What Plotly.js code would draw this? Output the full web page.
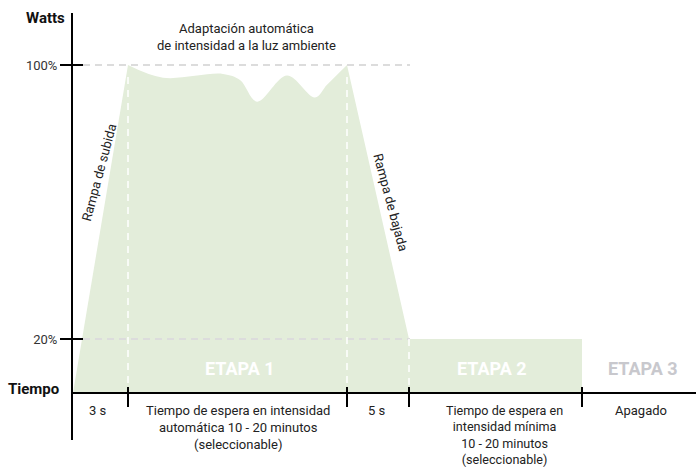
<!DOCTYPE html>
<html>
<head>
<meta charset="utf-8">
<script src="https://cdn.plot.ly/plotly-3.0.1.min.js"></script>
<style>
  html, body { margin: 0; padding: 0; background: #ffffff; }
  #chart { width: 696px; height: 468px; }
</style>
</head>
<body>
<div id="chart"></div>
<script>
// Timeline positions (horizontal units) of the phase boundaries:
// start, end of ramp-up, end of auto wait, end of ramp-down, end of stage 2
const phaseEdges = [0, 55, 274, 336, 509];
const fullLevel = 100;     // % power during stage 1
const minLevel = 20;       // % power during stage 2
const baseLevel = 4.2;     // level where the time axis sits

// Automatic light-adaptation curve across the stage-1 wait
const waveX = [55, 90, 150, 167, 184, 214, 242, 254, 274];
const waveY = [100, 96.3, 97.4, 95.6, 89.3, 96.9, 90.5, 94.2, 100];

// Y tick labels
const levelTicks = [minLevel, fullLevel];
const levelText = ['20%', '100%'];

// Phase labels along the time axis
const phaseLabels = [
  '3 s',
  'Tiempo de espera en intensidad<br>automática 10 - 20 minutos<br>(seleccionable)',
  '5 s',
  'Tiempo de espera en<br>intensidad mínima<br>10 - 20 minutos<br>(seleccionable)',
  'Apagado'
];
const stageNames = ['ETAPA 1', 'ETAPA 2', 'ETAPA 3'];

const fillColor = 'rgb(227,237,218)';
const FONT = 'Roboto, "Open Sans", sans-serif';

// plot area geometry (pixels)
const W = 696, H = 468, ML = 73, MT = 13, MB = 28;
const plotW = W - ML, plotH = H - MT - MB;
const fx = px => (px - ML) / plotW;
const fy = py => (H - MB - py) / plotH;

const [t0, tUp, tWait, tDown, tEnd] = phaseEdges;

const traces = [
  // ramp up
  {
    x: [t0, tUp, tUp + 8, t0],
    y: [baseLevel, fullLevel, baseLevel, baseLevel],
    mode: 'lines', fill: 'toself', fillcolor: fillColor,
    line: {width: 0}, hoverinfo: 'skip', showlegend: false
  },
  // ramp down and stage 2 minimum level
  {
    x: [tWait, tDown, tEnd, tEnd, tWait - 10, tWait],
    y: [fullLevel, minLevel, minLevel, baseLevel, baseLevel, fullLevel],
    mode: 'lines', fill: 'toself', fillcolor: fillColor,
    line: {width: 0}, hoverinfo: 'skip', showlegend: false
  },
  // floor for the adaptive curve
  {
    x: [waveX[0], waveX[waveX.length - 1]],
    y: [baseLevel, baseLevel],
    mode: 'lines', line: {width: 0}, hoverinfo: 'skip', showlegend: false
  },
  // adaptive curve
  {
    x: waveX, y: waveY,
    mode: 'lines', line: {width: 0, shape: 'spline', smoothing: 1},
    fill: 'tonexty', fillcolor: fillColor, hoverinfo: 'skip', showlegend: false
  }
];

const shapes = [];
// light dashed reference levels
[fullLevel, minLevel].forEach(lv => {
  shapes.push({type: 'line', xref: 'x', yref: 'y', x0: 10, x1: tDown + 1, y0: lv, y1: lv,
    line: {color: '#dcdcdc', width: 2, dash: '7px,5px'}});
});
// white dashed phase separators
shapes.push({type: 'line', xref: 'x', yref: 'y', x0: tUp, x1: tUp, y0: 96.5, y1: baseLevel + 1.7,
  line: {color: '#ffffff', width: 1.5, dash: '7px,6px'}});
shapes.push({type: 'line', xref: 'x', yref: 'y', x0: tWait, x1: tWait, y0: 96.5, y1: baseLevel + 1.7,
  line: {color: '#ffffff', width: 1.5, dash: '7px,6px'}});
shapes.push({type: 'line', xref: 'x', yref: 'y', x0: tDown, x1: tDown, y0: minLevel, y1: baseLevel + 1.7,
  line: {color: '#ffffff', width: 1.5, dash: '7px,6px'}});
// time axis
shapes.push({type: 'line', xref: 'x', yref: 'y', x0: 0, x1: plotW, y0: baseLevel, y1: baseLevel,
  line: {color: '#000000', width: 2}});
// time axis ticks
phaseEdges.slice(1).forEach(t => {
  shapes.push({type: 'line', xref: 'x', yref: 'y', ysizemode: 'pixel', yanchor: baseLevel,
    x0: t, x1: t, y0: -14, y1: 6, line: {color: '#000000', width: 2}});
});
// inner half of the level ticks
levelTicks.forEach(lv => {
  shapes.push({type: 'line', xref: 'x', yref: 'y', xsizemode: 'pixel', xanchor: 0,
    x0: 0, x1: 10, y0: lv, y1: lv, line: {color: '#000000', width: 2}});
});

const txt = (text, px, py, opts = {}) => Object.assign({
  text, xref: 'paper', yref: 'paper', x: fx(px), y: fy(py),
  showarrow: false, xanchor: 'center', yanchor: 'middle', borderpad: 0,
  font: {family: FONT, size: 13, color: '#222222'}
}, opts);

const annotations = [
  txt('<b>Watts</b>', 66, 17.5, {xanchor: 'right', font: {family: FONT, size: 15, color: '#111111'}}),
  txt('<b>Tiempo</b>', 60, 389, {xanchor: 'right', font: {family: FONT, size: 15, color: '#111111'}}),
  txt('Adaptación automática<br>de intensidad a la luz ambiente', 246, 37),
  txt('Rampa de subida', 98.5, 173, {textangle: -75}),
  txt('Rampa de bajada', 391, 202, {textangle: 75}),
  txt('<b>' + stageNames[0] + '</b>', 240, 368, {font: {family: FONT, size: 18, color: '#ffffff'}}),
  txt('<b>' + stageNames[1] + '</b>', 492, 368, {font: {family: FONT, size: 18, color: '#ffffff'}}),
  txt('<b>' + stageNames[2] + '</b>', 643, 368, {font: {family: FONT, size: 18, color: '#c8c8cd'}}),
  txt(phaseLabels[0], 98, 402, {yanchor: 'top'}),
  txt(phaseLabels[1], 238, 402, {yanchor: 'top'}),
  txt(phaseLabels[2], 377, 402, {yanchor: 'top'}),
  txt(phaseLabels[3], 505, 402, {yanchor: 'top', font: {family: FONT, size: 12.6, color: '#222222'}}),
  txt(phaseLabels[4], 641, 402, {yanchor: 'top'})
];

// y range chosen so the 100% and 20% levels fall at the drawn tick marks
const pxPerPct = (339 - 65) / (fullLevel - minLevel);
const yTop = fullLevel + (65 - MT) / pxPerPct;
const yBot = fullLevel - (H - MB - 65) / pxPerPct;

const layout = {
  width: W, height: H,
  margin: {l: ML, r: 0, t: MT, b: MB, pad: 0},
  paper_bgcolor: '#ffffff', plot_bgcolor: '#ffffff',
  showlegend: false,
  xaxis: {range: [0, plotW], visible: false, fixedrange: true},
  yaxis: {
    range: [yBot, yTop], showgrid: false, zeroline: false,
    showline: true, linecolor: '#000000', linewidth: 2,
    ticks: 'outside', ticklen: 11, tickwidth: 2, tickcolor: '#000000',
    tickvals: levelTicks, ticktext: levelText,
    tickfont: {family: FONT, size: 13, color: '#333333'},
    fixedrange: true
  },
  shapes, annotations
};

Plotly.newPlot('chart', traces, layout, {displayModeBar: false, staticPlot: true});
</script>
</body>
</html>
